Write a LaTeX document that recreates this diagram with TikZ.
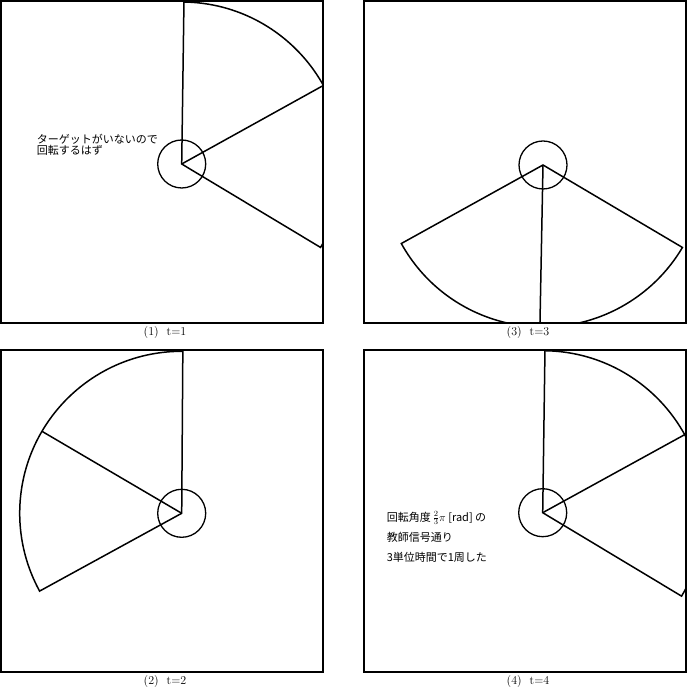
\documentclass[tikz,border=0pt]{standalone}
\usepackage{fontspec}
\newfontfamily\jpfont{Noto Sans CJK JP}
\begin{document}
\begin{tikzpicture}[x=1pt,y=1pt,line width=1.5pt,
  frame/.style={draw,line width=1.6pt},
  hub/.style={draw,circle,minimum size=48pt,inner sep=0pt,line width=1.3pt},
  captext/.style={font=\fontsize{12}{14}\selectfont,inner sep=0pt},
  note/.style={font=\jpfont\fontsize{11}{12}\selectfont,inner sep=0pt,anchor=base west}]
\useasboundingbox (0,0) rectangle (688,690);

% panel 1
\coordinate (c1) at (181.7,526);
\begin{scope}
  \clip (1,367) rectangle (323,689);
  \draw (c1) -- ++(89.2:162) arc[start angle=89.2,end angle=-31,radius=162] -- cycle;
  \draw (c1) -- ++(29:162);
\end{scope}
\draw[frame] (1,367) rectangle (323,689);
\node[hub] (h1) at (c1) {};
\node[captext] (cap1) at (165,357) {(1)\hspace{8pt}t=1};
\node[note] (n1) at (36,546.8) {ターゲットがいないので};
\node[note] (n2) at (36,535.3) {回転するはず};

% panel 3
\coordinate (c3) at (543,525);
\begin{scope}
  \clip (364,367) rectangle (686,689);
  \draw (c3) -- ++(209:162) arc[start angle=209,end angle=329.4,radius=162] -- cycle;
  \draw (c3) -- ++(268.9:162);
\end{scope}
\draw[frame] (364,367) rectangle (686,689);
\node[hub] (h3) at (c3) {};
\node[captext] (cap3) at (528,357) {(3)\hspace{8pt}t=3};

% panel 2
\coordinate (c2) at (181.7,176.7);
\begin{scope}
  \clip (1,18) rectangle (323,340);
  \draw (c2) -- ++(89.6:162) arc[start angle=89.6,end angle=208.7,radius=162] -- cycle;
  \draw (c2) -- ++(149.6:162);
\end{scope}
\draw[frame] (1,18) rectangle (323,340);
\node[hub] (h2) at (c2) {};
\node[captext] (cap2) at (165,8) {(2)\hspace{8pt}t=2};

% panel 4
\coordinate (c4) at (542.7,177.3);
\begin{scope}
  \clip (364,18) rectangle (686,340);
  \draw (c4) -- ++(89.2:162) arc[start angle=89.2,end angle=-31,radius=162] -- cycle;
  \draw (c4) -- ++(28.8:162);
\end{scope}
\draw[frame] (364,18) rectangle (686,340);
\node[hub] (h4) at (c4) {};
\node[captext] (cap4) at (528,8) {(4)\hspace{8pt}t=4};
\node[note] (n3) at (386,168.8) {回転角度\,$\frac{2}{3}\pi$ [rad] の};
\node[note] (n4) at (386,148.3) {教師信号通り};
\node[note] (n5) at (386,128.8) {3単位時間で1周した};
\end{tikzpicture}
\end{document}
